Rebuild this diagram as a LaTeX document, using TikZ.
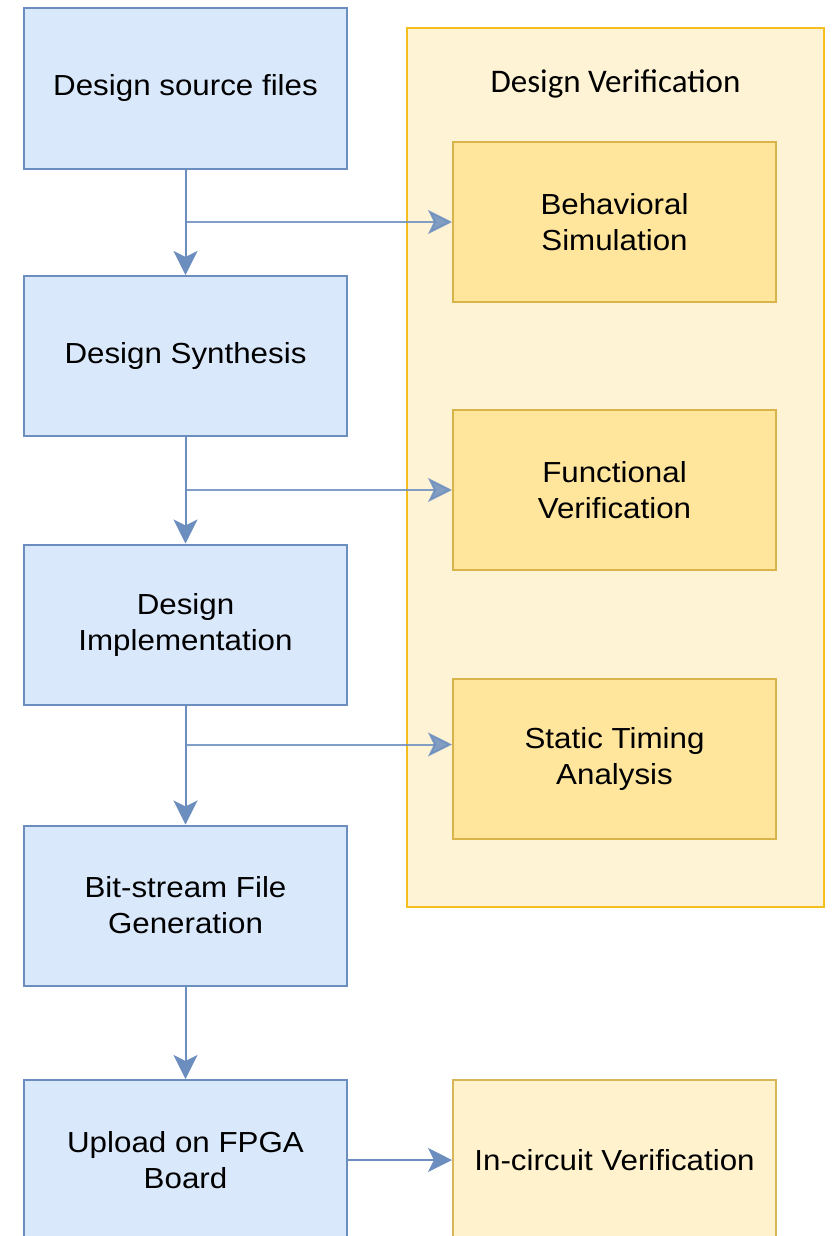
\documentclass[tikz,border=0pt]{standalone}
\usepackage{fontspec}
\setmainfont{Liberation Sans}[FakeStretch=1.08]
\newfontfamily\titlefont{Carlito}
\usetikzlibrary{arrows.meta}
\definecolor{bfill}{HTML}{DAE8FC}
\definecolor{bdraw}{HTML}{6C8EBF}
\definecolor{ofill}{HTML}{FFF3D6}
\definecolor{odraw}{HTML}{F4BE1E}
\definecolor{ifill}{HTML}{FFE69C}
\definecolor{idraw}{HTML}{D9B44A}
\definecolor{cfill}{HTML}{FFF2CC}
\definecolor{cdraw}{HTML}{D6B656}
\tikzset{
  bluebox/.style={draw=bdraw, fill=bfill, line width=2pt, minimum width=323pt, minimum height=160pt, align=center, inner sep=0pt, font=\fontsize{29}{36}\selectfont},
  innerbox/.style={draw=idraw, fill=ifill, line width=2pt, minimum width=323pt, minimum height=160pt, align=center, inner sep=0pt, font=\fontsize{29}{36}\selectfont},
  circbox/.style={draw=cdraw, fill=cfill, line width=2pt, minimum width=323pt, minimum height=160pt, align=center, inner sep=0pt, font=\fontsize{29}{36}\selectfont},
  outerbox/.style={draw=odraw, fill=ofill, line width=2pt, minimum width=417pt, minimum height=879pt, inner sep=0pt},
  flow/.style={draw=bdraw, line width=2pt, -{Stealth[length=24pt,width=24pt,inset=6pt]}},
  hflow/.style={flow, draw opacity=0.85, fill opacity=0.85}
}
\begin{document}
\begin{tikzpicture}[x=1pt,y=-1pt]
\useasboundingbox (0,0) rectangle (833,1236);
\fill[white] (0,0) rectangle (833,1236);
% outer verification box
\node[outerbox] (outer) at (615.5,467.5) {};
\node[font=\titlefont\fontsize{33}{38}\selectfont, inner sep=0pt] (title) at (615.5,84) {Design Verification};
% left column
\node[bluebox] (b1) at (185.5,88.5) {Design source files};
\node[bluebox] (b2) at (185.5,356) {Design Synthesis};
\node[bluebox] (b3) at (185.5,624.5) {Design\\Implementation};
\node[bluebox] (b4) at (185.5,905.5) {Bit-stream File\\Generation};
\node[bluebox] (b5) at (185.5,1160) {Upload on FPGA\\Board};
% right column
\node[innerbox] (v1) at (614.5,222) {Behavioral\\Simulation};
\node[innerbox] (v2) at (614.5,490) {Functional\\Verification};
\node[innerbox] (v3) at (614.5,758.5) {Static Timing\\Analysis};
\node[circbox] (v4) at (614.5,1160) {In-circuit Verification};
\coordinate (v3in) at ([yshift=14pt]v3.west);
% vertical arrows
\draw[flow] (b1.south) -- (b2.north);
\draw[flow] (b2.south) -- (b3.north);
\draw[flow] (b3.south) -- (b4.north);
\draw[flow] (b4.south) -- (b5.north);
% horizontal arrows
\draw[hflow] (b1.south |- v1.west) -- (v1.west);
\draw[hflow] (b2.south |- v2.west) -- (v2.west);
\draw[hflow] (b3.south |- v3in) -- (v3in);
\draw[flow] (b5.east) -- (v4.west);
\end{tikzpicture}
\end{document}
